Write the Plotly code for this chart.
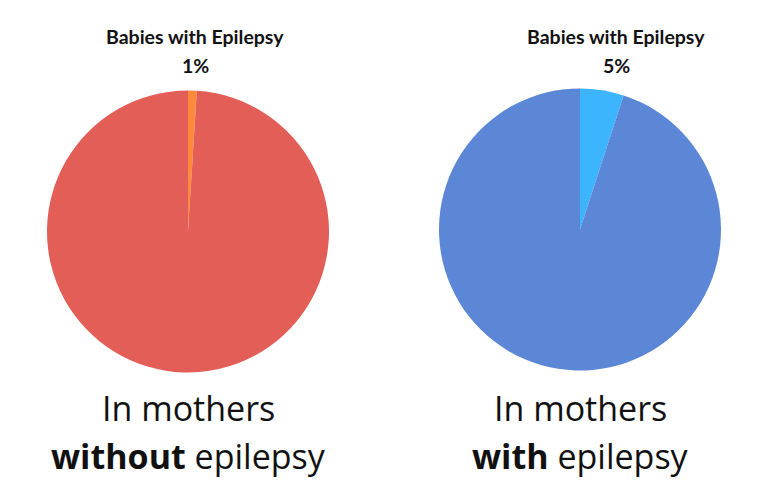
import plotly.graph_objects as go

W, H = 768, 503
OFF = 8  # page body margin

# Data
categories = ["Babies with Epilepsy", "Babies without Epilepsy"]
without_values = [1, 99]
with_values = [5, 95]
without_colors = ["#FF8A3D", "#E35E56"]
with_colors = ["#3DB4FE", "#5C87D7"]
top_label = "Babies with Epilepsy"
without_pct = "1%"
with_pct = "5%"

fig = go.Figure()

def dom(x0, x1, y0, y1):
    x0 -= OFF; x1 -= OFF; y0 -= OFF; y1 -= OFF
    return dict(x=[x0 / W, x1 / W], y=[1 - y1 / H, 1 - y0 / H])

fig.add_trace(go.Pie(
    labels=categories, values=without_values, sort=False, direction="clockwise",
    rotation=0, marker=dict(colors=without_colors, line=dict(width=0)),
    textinfo="none", hoverinfo="label+percent", showlegend=False,
    domain=dom(47, 329, 90, 373),
))
fig.add_trace(go.Pie(
    labels=categories, values=with_values, sort=False, direction="clockwise",
    rotation=0, marker=dict(colors=with_colors, line=dict(width=0)),
    textinfo="none", hoverinfo="label+percent", showlegend=False,
    domain=dom(439, 721, 88, 371),
))

def ann(text, x, y, size, family):
    x -= OFF; y -= OFF
    return dict(text=text, x=x / W, y=1 - y / H, xref="paper", yref="paper",
                xanchor="center", yanchor="middle", showarrow=False,
                font=dict(size=size, family=family, color="#111111"))

annotations = [
    ann("<b>" + top_label + "</b>", 195, 37, 19.5, "Lato"),
    ann("<b>" + without_pct + "</b>", 195, 65, 19.5, "Lato"),
    ann("<b>" + top_label + "</b>", 616, 37, 19.5, "Lato"),
    ann("<b>" + with_pct + "</b>", 616, 65, 19.5, "Lato"),
    ann("In mothers", 188, 408, 34, "Open Sans"),
    ann("<b>without</b> epilepsy", 188, 456, 34, "Open Sans"),
    ann("In mothers", 580, 408, 34, "Open Sans"),
    ann("<b>with</b> epilepsy", 580, 456, 34, "Open Sans"),
]

fig.update_layout(
    width=W, height=H, margin=dict(l=0, r=0, t=0, b=0),
    paper_bgcolor="white", plot_bgcolor="white",
    annotations=annotations, showlegend=False,
)

fig.write_html("out.html")
